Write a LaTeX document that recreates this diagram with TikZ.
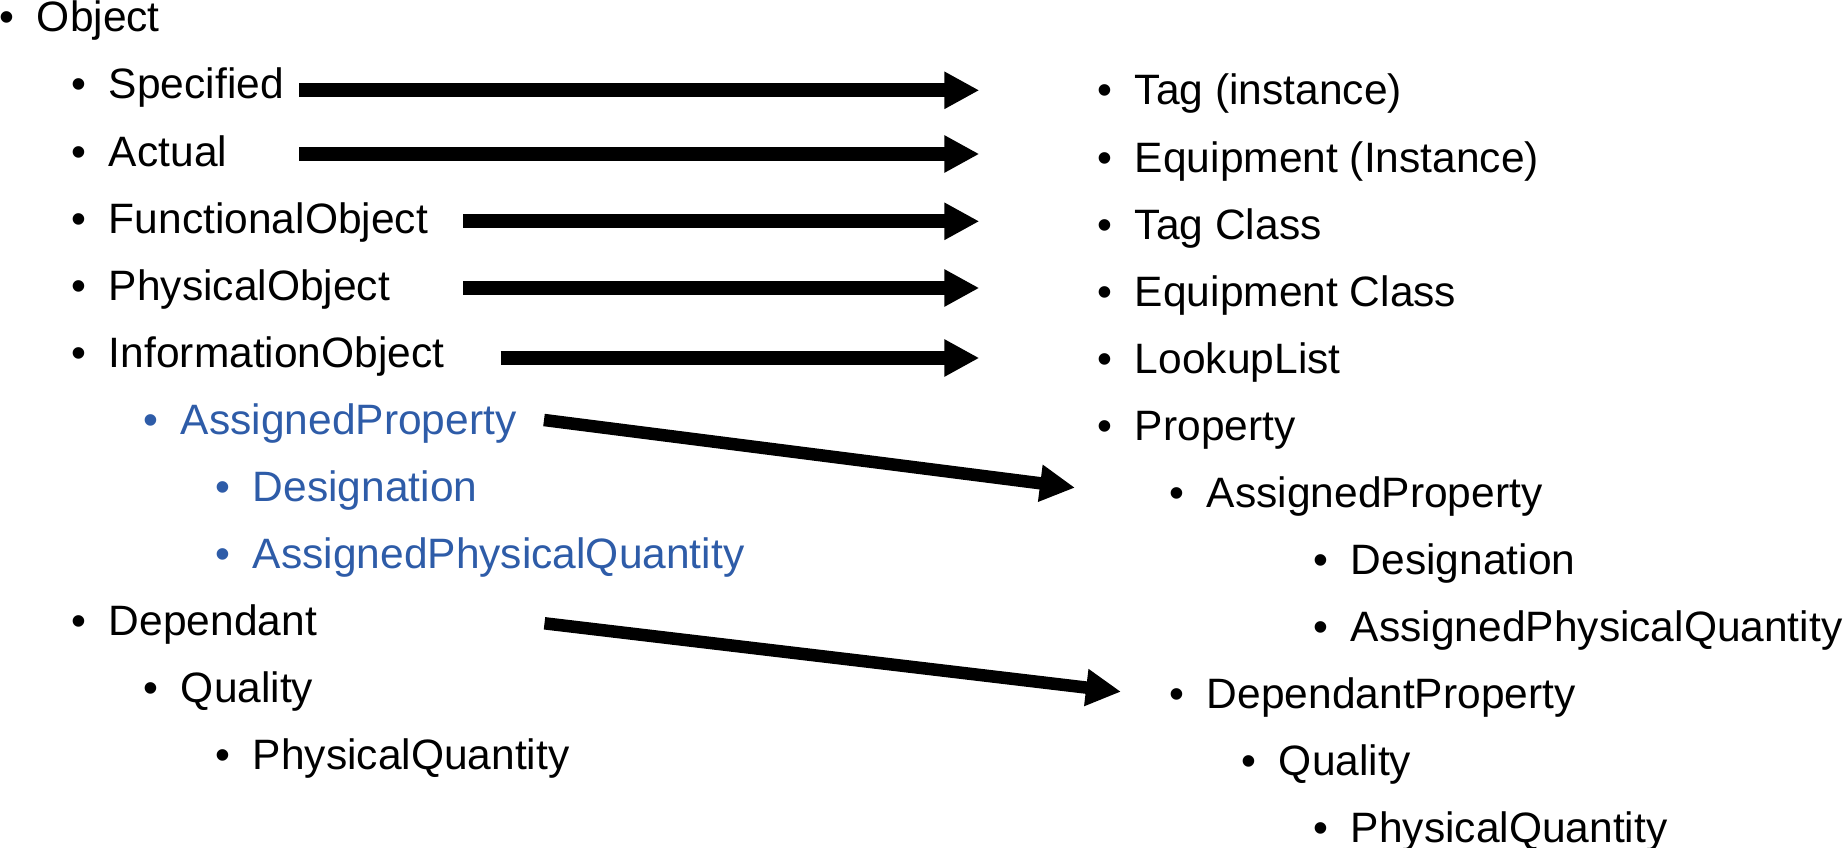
\documentclass[tikz,border=0pt]{standalone}
\usepackage{fontspec}
\setmainfont{Liberation Sans}
\usetikzlibrary{arrows.meta}
\definecolor{itemblue}{RGB}{46,92,168}
\tikzset{
  item/.style={anchor=base west, inner sep=0pt, outer sep=0pt,
    font=\fontsize{42.5pt}{50pt}\selectfont},
  blueitem/.style={item, text=itemblue},
  harrow/.style={line width=14pt, -{Triangle[length=35pt,width=35pt]}},
  darrow/.style={line width=12.5pt, -{Triangle[length=35pt,width=35pt]}},
}
\newcommand{\bul}{\llap{\makebox[60pt][c]{•}}}
\begin{document}
\begin{tikzpicture}[x=1pt,y=1pt]
\useasboundingbox (0,0) rectangle (1844,-848);
% left column
\node[item] (obj)   at (37,-32)   {\bul Object};
\node[item] (spec)  at (109,-99)  {\bul Specified};
\node[item] (act)   at (109,-166) {\bul Actual};
\node[item] (func)  at (109,-233) {\bul FunctionalObject};
\node[item] (phys)  at (109,-300) {\bul PhysicalObject};
\node[item] (info)  at (109,-367) {\bul InformationObject};
\node[blueitem] (aprop) at (181,-434) {\bul AssignedProperty};
\node[blueitem] (desig) at (253,-501) {\bul Designation};
\node[blueitem] (apq)   at (253,-568) {\bul AssignedPhysicalQuantity};
\node[item] (dep)   at (109,-635) {\bul Dependant};
\node[item] (qual)  at (181,-702) {\bul Quality};
\node[item] (pq)    at (253,-769) {\bul PhysicalQuantity};
% right column
\node[item] (tag)    at (1135,-105) {\bul Tag (instance)};
\node[item] (equip)  at (1135,-172) {\bul Equipment (Instance)};
\node[item] (tagc)   at (1135,-239) {\bul Tag Class};
\node[item] (equipc) at (1135,-306) {\bul Equipment Class};
\node[item] (lookup) at (1135,-373) {\bul LookupList};
\node[item] (prop)   at (1135,-440) {\bul Property};
\node[item] (raprop) at (1207,-507) {\bul AssignedProperty};
\node[item] (rdesig) at (1351,-574) {\bul Designation};
\node[item] (rapq)   at (1351,-641) {\bul AssignedPhysicalQuantity};
\node[item] (dprop)  at (1207,-708) {\bul DependantProperty};
\node[item] (rqual)  at (1279,-775) {\bul Quality};
\node[item] (rpq)    at (1351,-842) {\bul PhysicalQuantity};
% arrows
\draw[harrow] ([shift={(190,8.7)}]spec.base west) -- ([shift={(-155.7,14.7)}]tag.base west);
\draw[harrow] ([shift={(190,12)}]act.base west) -- ([shift={(-155.7,18)}]equip.base west);
\draw[harrow] ([shift={(354,11.7)}]func.base west) -- ([shift={(-155.7,17.7)}]tagc.base west);
\draw[harrow] ([shift={(354,12)}]phys.base west) -- ([shift={(-155.7,18)}]equipc.base west);
\draw[harrow] ([shift={(391.6,9)}]info.base west) -- ([shift={(-155.7,15)}]lookup.base west);
\draw[darrow] ([shift={(363,14)}]aprop.base west) -- ([shift={(-132,19.3)}]raprop.base west);
\draw[darrow] ([shift={(435.5,11.7)}]dep.base west) -- ([shift={(-86,16.3)}]dprop.base west);
\end{tikzpicture}
\end{document}
